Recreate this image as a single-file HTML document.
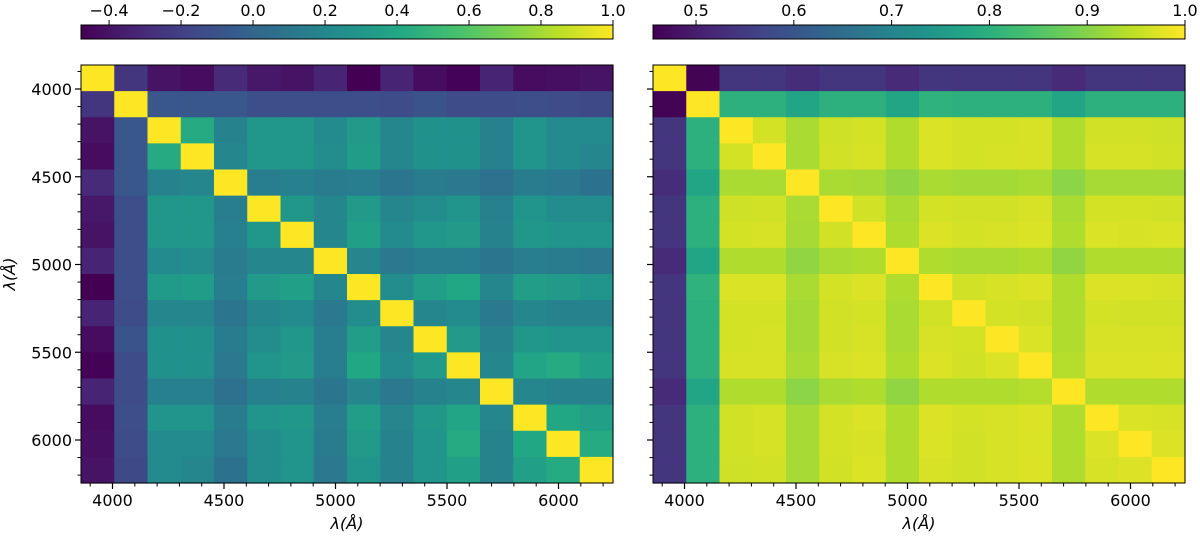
<!DOCTYPE html>
<html><head><meta charset="utf-8"><style>
html,body{margin:0;padding:0;background:#fff;}
svg{display:block;font-family:"DejaVu Sans","Liberation Sans",sans-serif;}
</style></head><body>
<svg id="fig" width="1200" height="538" viewBox="0 0 1200 538" xmlns="http://www.w3.org/2000/svg">
<defs>
<linearGradient id="vir" x1="0" x2="1" y1="0" y2="0">
<stop offset="0" stop-color="#440154"/><stop offset="0.1" stop-color="#482475"/><stop offset="0.2" stop-color="#414487"/><stop offset="0.3" stop-color="#355f8d"/><stop offset="0.4" stop-color="#2a788e"/><stop offset="0.5" stop-color="#21918c"/><stop offset="0.6" stop-color="#22a884"/><stop offset="0.7" stop-color="#44bf70"/><stop offset="0.8" stop-color="#7ad151"/><stop offset="0.9" stop-color="#bddf26"/><stop offset="1" stop-color="#fde725"/>
</linearGradient>
</defs>
</svg>
<script>
// wavelength axis ticks
const majorTicks = [4000, 4500, 5000, 5500, 6000];
const nBins = 16;
// colorbar tick labels
const leftCbTicks = [-0.4, -0.2, 0.0, 0.2, 0.4, 0.6, 0.8, 1.0];
const rightCbTicks = [0.5, 0.6, 0.7, 0.8, 0.9, 1.0];
const leftRange = [-0.478, 1.0];
const rightRange = [0.456, 1.0];
// upper-triangle rows (row i gives columns i..15), left panel
const leftUpper = [
[1,-0.25,-0.40,-0.43,-0.30,-0.38,-0.40,-0.33,-0.48,-0.33,-0.43,-0.47,-0.33,-0.43,-0.42,-0.40],
[1,-0.08,-0.08,-0.08,-0.12,-0.12,-0.12,-0.12,-0.14,-0.10,-0.14,-0.14,-0.12,-0.14,-0.15],
[1,0.42,0.18,0.30,0.30,0.22,0.32,0.20,0.26,0.26,0.16,0.28,0.22,0.22],
[1,0.20,0.30,0.30,0.24,0.33,0.20,0.26,0.26,0.16,0.28,0.22,0.20],
[1,0.15,0.16,0.13,0.15,0.10,0.13,0.12,0.07,0.13,0.12,0.08],
[1,0.30,0.20,0.32,0.20,0.24,0.28,0.16,0.28,0.24,0.24],
[1,0.20,0.36,0.22,0.30,0.32,0.18,0.30,0.28,0.28],
[1,0.20,0.12,0.14,0.14,0.10,0.14,0.13,0.12],
[1,0.24,0.34,0.40,0.20,0.34,0.32,0.28],
[1,0.20,0.22,0.12,0.20,0.18,0.18],
[1,0.32,0.18,0.30,0.28,0.28],
[1,0.20,0.38,0.42,0.36],
[1,0.20,0.18,0.18],
[1,0.40,0.36],
[1,0.42],
[1]];
// right panel
const rightUpper = [
[1,0.460,0.540,0.540,0.525,0.540,0.540,0.522,0.540,0.540,0.540,0.540,0.522,0.540,0.540,0.540],
[1,0.800,0.800,0.775,0.800,0.800,0.775,0.805,0.800,0.800,0.800,0.775,0.800,0.800,0.800],
[1,0.965,0.930,0.960,0.965,0.935,0.970,0.965,0.965,0.968,0.935,0.962,0.962,0.960],
[1,0.930,0.962,0.968,0.935,0.970,0.965,0.967,0.968,0.935,0.966,0.966,0.962],
[1,0.930,0.928,0.910,0.930,0.925,0.925,0.930,0.905,0.928,0.928,0.928],
[1,0.962,0.930,0.965,0.962,0.962,0.968,0.930,0.965,0.965,0.962],
[1,0.935,0.972,0.965,0.968,0.970,0.935,0.970,0.968,0.970],
[1,0.935,0.930,0.930,0.935,0.910,0.935,0.935,0.935],
[1,0.962,0.968,0.972,0.935,0.972,0.970,0.968],
[1,0.965,0.962,0.935,0.965,0.962,0.962],
[1,0.970,0.935,0.968,0.968,0.968],
[1,0.938,0.972,0.970,0.972],
[1,0.935,0.935,0.935],
[1,0.970,0.968],
[1,0.972],
[1]];

const NS="http://www.w3.org/2000/svg";
const svg=document.getElementById('fig');
function el(tag,attrs,parent){const e=document.createElementNS(NS,tag);for(const k in attrs)e.setAttribute(k,attrs[k]);(parent||svg).appendChild(e);return e;}
const stops=[[68,1,84],[72,36,117],[65,68,135],[53,95,141],[42,120,142],[33,145,140],[34,168,132],[68,191,112],[122,209,81],[189,223,38],[253,231,37]];
function viridis(t){t=Math.max(0,Math.min(1,t));const p=t*10,i=Math.min(9,Math.floor(p)),f=p-i;const a=stops[i],b=stops[i+1];return 'rgb('+a.map((v,k)=>Math.round(v+(b[k]-v)*f)).join(',')+')';}
function full(upper){const n=upper.length;const m=[];for(let i=0;i<n;i++){m.push([]);for(let j=0;j<n;j++){m[i].push(j>=i?upper[i][j-i]:upper[j][i-j]);}}return m;}
const plotTop=65,plotBot=483;
function xs(x0){return l=>x0+31.5+(l-4000)*0.223;}
function ys(l){return 89+(l-4000)*0.1755;}
function drawPanel(name,x0,x1,upper,range,cbTicks,showYLabels){
  const g=el('g',{});
  
  
  const m=full(upper);const n=m.length;const cw=(x1-x0)/n,ch=(plotBot-plotTop)/n;
  for(let i=0;i<n;i++)for(let j=0;j<n;j++){
    const r=el('rect',{x:x0+j*cw,y:plotTop+i*ch,width:cw+0.6,height:ch+0.6,fill:viridis((m[i][j]-range[0])/(range[1]-range[0]))},g);
    
    
  }
  const fr=el('rect',{x:x0,y:plotTop,width:x1-x0,height:plotBot-plotTop,fill:'none',stroke:'#000','stroke-width':1},g);
  
  
  const X=xs(x0);
  for(let l=3900;l<=6300;l+=100){const x=X(l);if(x<x0-0.5||x>x1+0.5)continue;const maj=l%500===0;el('line',{x1:x,x2:x,y1:plotBot,y2:plotBot+(maj?6:3.5),stroke:'#000','stroke-width':maj?1.2:1},g);}
  for(const t of majorTicks){const tx=el('text',{x:X(t),y:506,'text-anchor':'middle','font-size':16,fill:'#000'},g);tx.textContent=t;}
  for(let l=3900;l<=6300;l+=100){const y=ys(l);if(y<plotTop-0.5||y>plotBot+0.5)continue;const maj=l%500===0;el('line',{x1:x0,x2:x0-(maj?6:3.5),y1:y,y2:y,stroke:'#000','stroke-width':maj?1.2:1},g);}
  if(showYLabels)for(const t of majorTicks){const tx=el('text',{x:x0-9,y:ys(t)+6,'text-anchor':'end','font-size':16,fill:'#000'},g);tx.textContent=t;}
  const xl=el('text',{x:(x0+x1)/2,y:529,'text-anchor':'middle','font-size':16,'font-style':'italic',fill:'#000'},g);xl.textContent='λ(Å)';
  
  
  const cb=el('rect',{x:x0,y:25,width:x1-x0,height:14,fill:'url(#vir)',stroke:'#000','stroke-width':1},g);
  
  
  for(const t of cbTicks){const x=x0+(t-range[0])/(range[1]-range[0])*(x1-x0);el('line',{x1:x,x2:x,y1:25,y2:20,stroke:'#000','stroke-width':1},g);
    const tx=el('text',{x:x,y:16,'text-anchor':'middle','font-size':16,fill:'#000'},g);tx.textContent=(t<0?'−':'')+Math.abs(t).toFixed(1);
    
    }
}
drawPanel('left',81,613,leftUpper,leftRange,leftCbTicks,true);
drawPanel('right',653,1185,rightUpper,rightRange,rightCbTicks,false);
const yl=el('text',{x:0,y:0,'text-anchor':'middle','font-size':16,'font-style':'italic',fill:'#000',transform:'translate(15,274) rotate(-90)'});
yl.textContent='λ(Å)';


</script>
</body></html>
